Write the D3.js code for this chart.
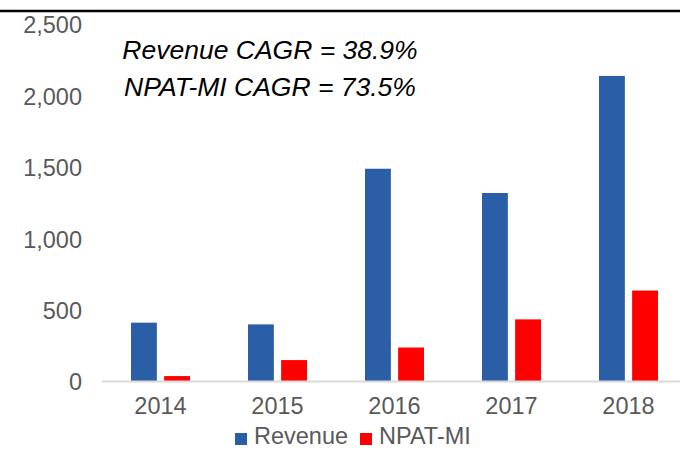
<!DOCTYPE html>
<html>
<head>
<meta charset="utf-8">
<script src="https://cdn.jsdelivr.net/npm/d3@7"></script>
<style>
  body { margin: 0; background: white; }
  svg { display: block; }
</style>
</head>
<body>
<div id="chart"></div>
<script>
// data
var years = ["2014", "2015", "2016", "2017", "2018"];
var seriesNames = ["Revenue", "NPAT-MI"];
var revenue = [412, 400, 1490, 1320, 2140];
var npat = [38, 150, 238, 435, 637];
var yTicks = [0, 500, 1000, 1500, 2000, 2500];
var notes = ["Revenue CAGR = 38.9%", "NPAT-MI CAGR = 73.5%"];
var colors = ["#2a5ea6", "#ff0000"];

var width = 680, height = 450;
var font = "'Liberation Sans', Arial, sans-serif";

var svg = d3.select("#chart")
    .append("svg")
    .attr("width", width)
    .attr("height", height);

// scales
var y = d3.scaleLinear()
    .domain([0, 2500])
    .range([381.5, 24.5]);

var x0 = d3.scaleBand()
    .domain(years)
    .range([102, 687])
    .paddingInner(0.496)
    .paddingOuter(0.248);

var x1 = d3.scaleBand()
    .domain(seriesNames)
    .range([0, x0.bandwidth()])
    .paddingInner(0.22);

var color = d3.scaleOrdinal().domain(seriesNames).range(colors);

// table for the grouped bars
var rows = years.map(function(yr, i) {
  return { year: yr, values: [
    { name: seriesNames[0], value: revenue[i] },
    { name: seriesNames[1], value: npat[i] }
  ]};
});

// top black rule
svg.append("line")
    .attr("x1", 0).attr("x2", width)
    .attr("y1", 11).attr("y2", 11)
    .style("stroke", "#000")
    .style("stroke-width", 2.5);

// y axis labels (no line)
var yAxis = d3.axisLeft(y)
    .tickValues(yTicks)
    .tickSize(0)
    .tickPadding(0)
    .tickFormat(d3.format(","));

svg.append("g")
    .attr("transform", "translate(82,0)")
    .call(yAxis)
    .call(function(g) { g.select(".domain").remove(); })
    .selectAll("text")
    .attr("dy", "0.36em")
    .style("fill", "#595959")
    .style("font-family", font)
    .style("font-size", "23.5px");

// bars
var groups = svg.selectAll("g.year")
    .data(rows)
    .enter().append("g")
    .attr("class", "year")
    .attr("transform", function(d) { return "translate(" + x0(d.year) + ",0)"; });

groups.selectAll("rect")
    .data(function(d) { return d.values; })
    .enter().append("rect")
    .attr("x", function(d) { return x1(d.name); })
    .attr("y", function(d) { return y(d.value); })
    .attr("width", x1.bandwidth())
    .attr("height", function(d) { return y(0) - y(d.value); })
    .style("fill", function(d) { return color(d.name); });

// x axis line and year labels
var xAxis = d3.axisBottom(x0).tickSize(0).tickPadding(16);

var gx = svg.append("g")
    .attr("transform", "translate(0," + y(0) + ")")
    .call(xAxis);

gx.select(".domain").remove();
gx.append("line")
    .attr("x1", 102).attr("x2", width)
    .style("stroke", "#d9d9d9")
    .style("stroke-width", 2);

gx.selectAll("text")
    .attr("dy", "0.71em")
    .style("fill", "#595959")
    .style("font-family", font)
    .style("font-size", "23.5px");

// CAGR notes
svg.selectAll("text.note")
    .data(notes)
    .enter().append("text")
    .attr("class", "note")
    .attr("x", 270)
    .attr("y", function(d, i) { return 59 + i * 37; })
    .attr("text-anchor", "middle")
    .style("font-family", font)
    .style("font-style", "italic")
    .style("font-size", "26.5px")
    .style("fill", "#000")
    .text(function(d) { return d; });

// legend
var legendX = [235, 360];
var legend = svg.selectAll("g.legend")
    .data(seriesNames)
    .enter().append("g")
    .attr("class", "legend")
    .attr("transform", function(d, i) { return "translate(" + legendX[i] + ",433)"; });

legend.append("rect")
    .attr("width", 12)
    .attr("height", 12)
    .style("fill", function(d) { return color(d); });

legend.append("text")
    .attr("x", 19)
    .attr("y", 11)
    .style("fill", "#595959")
    .style("font-family", font)
    .style("font-size", "23.5px")
    .text(function(d) { return d; });
</script>
</body>
</html>
